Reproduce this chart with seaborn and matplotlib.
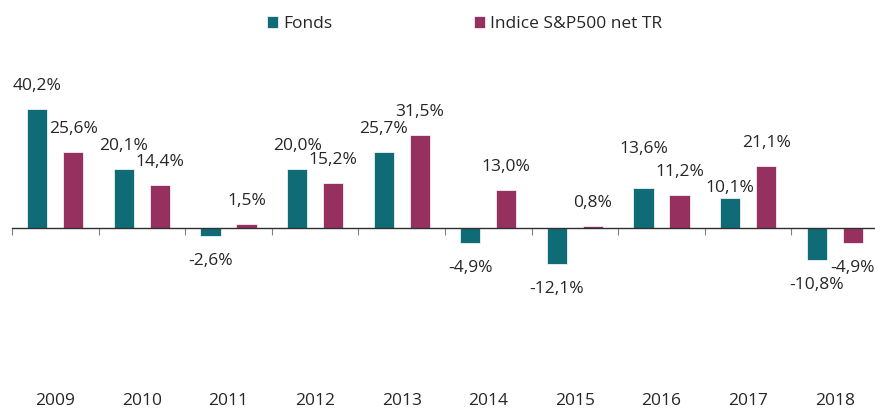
import pandas as pd
import seaborn as sns
import matplotlib.pyplot as plt
from matplotlib.transforms import blended_transform_factory

years = ['2009', '2010', '2011', '2012', '2013', '2014', '2015', '2016', '2017', '2018']
fonds = [40.2, 20.1, -2.6, 20.0, 25.7, -4.9, -12.1, 13.6, 10.1, -10.8]
indice = [25.6, 14.4, 1.5, 15.2, 31.5, 13.0, 0.8, 11.2, 21.1, -4.9]
series_names = ['Fonds', 'Indice S&P500 net TR']
colors = ['#0F6B75', '#96305F']

# label offsets (pixels) that differ from the default placement
label_shift = {(0, 7): 39, (0, 8): 10.5}

sns.set_theme(style='white')
plt.rcParams['font.family'] = ['Open Sans', 'DejaVu Sans']

df = pd.DataFrame({
    'year': years * 2,
    'value': fonds + indice,
    'series': [series_names[0]] * len(years) + [series_names[1]] * len(years),
})

fig = plt.figure(figsize=(8.75, 4.08), dpi=100)
ax = fig.add_axes([12 / 875, 32 / 408, 866 / 875, 296 / 408])

sns.barplot(data=df, x='year', y='value', hue='series', palette=colors,
            saturation=1, width=0.83, gap=0.44, edgecolor='white',
            linewidth=0.5, ax=ax)

ax.set_ylim(-50, 50)
ax.set_xlim(-0.5, len(years) - 0.5)
for s in ['top', 'right', 'left']:
    ax.spines[s].set_visible(False)
ax.spines['bottom'].set_position(('data', 0))
ax.spines['bottom'].set_color('#303030')
ax.spines['bottom'].set_linewidth(1.0)
ax.set_yticks([])
ax.set_xticks([i - 0.5 for i in range(len(years) + 1)])
ax.set_xticklabels([])
ax.tick_params(axis='x', direction='out', length=5, width=0.8, color='#808080', bottom=True)
ax.set_xlabel('')
ax.set_ylabel('')

# data labels
for k, cont in enumerate(ax.containers):
    for i, bar in enumerate(cont):
        v = bar.get_height()
        x = bar.get_x() + bar.get_width() / 2
        off = label_shift.get((k, i), 23) if v >= 0 else -25.5
        ax.annotate(f'{v:.1f}%'.replace('.', ','), (x, v), xytext=(0, off),
                    textcoords='offset pixels', ha='center', va='center',
                    fontsize=12.5, color='#262626', annotation_clip=False)

# year labels at the bottom
trans = blended_transform_factory(ax.transData, ax.transAxes)
for i, y in enumerate(years):
    ax.text(i, -25 / 296, y, transform=trans, ha='center', va='center',
            fontsize=12.5, color='#262626')

ax.legend_.remove()
handles, labels = ax.get_legend_handles_labels()
fig.legend(handles, labels, loc='center', bbox_to_anchor=(0.531, 0.941), ncol=2,
           frameon=False, fontsize=12.5, handlelength=0.63, handleheight=0.63,
           handletextpad=0.3, columnspacing=8.2)

fig.savefig('out.png', dpi=100)
